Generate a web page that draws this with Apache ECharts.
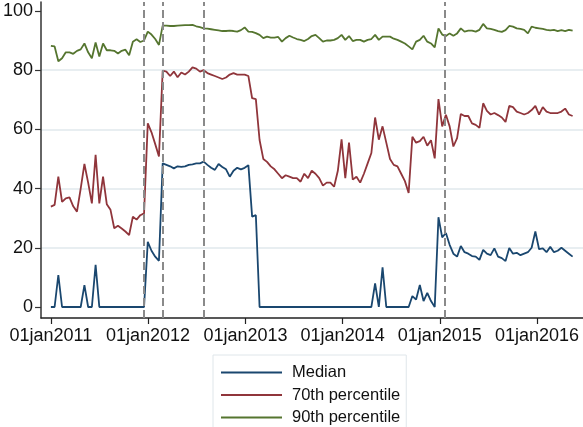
<!DOCTYPE html>
<html>
<head>
<meta charset="utf-8">
<script src="https://cdn.jsdelivr.net/npm/echarts@6/dist/echarts.min.js"></script>
<style>
html, body { margin: 0; padding: 0; background: #fff; }
#main { width: 583px; height: 427px; }
</style>
</head>
<body>
<div id="main"></div>
<script>
// biweekly observations, first one on 01jan2011
var startDate = '2011-01-01';
var stepDays = 14;

var median = [
    0, 0, 10.8, 0, 0, 0, 0, 0, 0, 7.4,
    0, 0, 14.2, 0, 0, 0, 0, 0, 0, 0,
    0, 0, 0, 0, 0, 0, 22, 19, 17, 15.6,
    48.5, 48, 47.5, 46.8, 47.5, 47.3, 47.5, 48, 48.2, 48.5,
    48.5, 49.1, 48, 47, 46.3, 48.3, 47.3, 46.5, 44, 46,
    47, 46.5, 47, 47.9, 30.5, 31, 0, 0, 0, 0,
    0, 0, 0, 0, 0, 0, 0, 0, 0, 0,
    0, 0, 0, 0, 0, 0, 0, 0, 0, 0,
    0, 0, 0, 0, 0, 0, 0, 8, 0, 13.4,
    0, 0, 0, 0, 0, 0, 0, 3.7, 2.5, 7.4,
    2, 4.8, 2, 0, 30.3, 23.5, 25, 21, 18, 17,
    20.6, 18.5, 18, 17.2, 17, 15.9, 19.3, 18, 17.5, 19.8,
    17, 16.5, 15.5, 19.9, 18, 18.3, 17.5, 18, 18.5, 20,
    25.5, 19.5, 19.8, 18.5, 20.3, 18.5, 19, 20, 19, 18,
    17
];
var p70 = [
    33.9, 34.5, 44, 35.5, 36.7, 37, 34, 32.2, 40, 48.3,
    42, 35, 51.4, 35, 44, 34.7, 32.8, 26.6, 27.4, 26.5,
    25.5, 24.3, 30.5, 29.5, 31, 31.6, 62, 59, 55, 50.8,
    79.8, 79.5, 78, 79.5, 77.6, 79.2, 78.5, 79.5, 80.9, 80.5,
    79.5, 80, 79, 78.5, 78, 77.5, 77, 77.5, 78.5, 79,
    78.5, 78.5, 78.5, 78, 70.5, 70.2, 56.4, 50, 49, 47.5,
    46.5, 45, 43.5, 44.5, 44, 43.5, 43.5, 42.3, 45, 43.5,
    46, 45, 43.5, 41, 42, 42, 40.6, 46, 56.6, 43.5,
    55.5, 43, 44, 42, 45, 48.5, 52, 64, 56.5, 61,
    55.5, 50, 48, 47.5, 45, 42.5, 38.5, 57.5, 55.5, 56,
    57.5, 54.5, 56.3, 50.2, 70.2, 61, 64.9, 61, 54.2, 57,
    65.2, 64.5, 64.5, 62, 61.5, 60.5, 68.8, 66.2, 65, 65.5,
    64.8, 64, 62.5, 67.9, 67.5, 66, 65.5, 65, 65.5, 66.5,
    67.9, 65, 67.5, 66, 65.5, 65.5, 65.5, 66, 67, 65,
    64.5
];
var p90 = [
    88.2, 88, 83, 84, 86, 86, 85.5, 86.5, 87, 89,
    86, 84, 89.3, 84.6, 89, 86.7, 86.7, 86.5, 85.6, 86.5,
    86.9, 85, 89.6, 90.4, 89.5, 90, 93, 92, 90.5, 88.5,
    95, 95, 94.9, 94.9, 95, 95.1, 95.2, 95.2, 95.3, 94.8,
    94.5, 94.1, 94, 93.8, 93.6, 93.4, 93.2, 93.2, 93.3, 93.2,
    93, 93.5, 94.4, 93, 92.9, 92.5, 91.9, 90.8, 91.3, 91,
    91, 91.2, 89.6, 90.8, 91.6, 91, 90.5, 90.2, 89.8, 90.5,
    91.5, 91.9, 90.8, 89.6, 90, 90, 90.2, 90.8, 91.9, 90.2,
    91.5, 89.8, 90.2, 90.2, 89.6, 90.2, 90.5, 91.9, 90.2, 91.3,
    91.3, 91.3, 90.6, 90.2, 89.6, 89, 88, 87, 89.6, 90.2,
    91.6, 89.6, 89, 87.7, 94.1, 92, 91.5, 92.4, 91.6, 92.4,
    94.1, 93, 93.3, 93.3, 93, 93.6, 95.6, 94.1, 93.9, 93.6,
    93.2, 92.9, 93.5, 94.9, 94.7, 94.1, 93.9, 93.6, 92.4, 94.7,
    94.3, 94.1, 93.9, 93.6, 93.4, 93.6, 93.2, 93.5, 93.2, 93.6,
    93.3
];

var seriesNames = ['Median', '70th percentile', '90th percentile'];
var seriesColors = ['#1a476f', '#90353b', '#55752f'];
var xTicks = ['2011-01-01', '2012-01-01', '2013-01-01', '2014-01-01', '2015-01-01', '2016-01-01'];
var yTicks = [0, 20, 40, 60, 80, 100];
var eventDates = ['2011-12-17', '2012-02-24', '2012-07-28', '2015-01-19'];
var months = ['jan', 'feb', 'mar', 'apr', 'may', 'jun', 'jul', 'aug', 'sep', 'oct', 'nov', 'dec'];

function toTime(s) {
    var p = s.split('-');
    return new Date(+p[0], +p[1] - 1, +p[2]).getTime();
}

function stataDate(v) {
    var d = new Date(v);
    return ('0' + d.getDate()).slice(-2) + months[d.getMonth()] + d.getFullYear();
}

function build() {
    var myChart = echarts.init(document.getElementById('main'));
    var font = 'Liberation Sans, Arial, sans-serif';
    var s = startDate.split('-');
    var dates = median.map(function (v, i) {
        return new Date(+s[0], +s[1] - 1, +s[2] + i * stepDays).getTime();
    });
    var lists = [median, p70, p90];
    var xTickTimes = xTicks.map(toTime);

    var series = lists.map(function (list, k) {
        return {
            name: seriesNames[k],
            type: 'line',
            symbol: 'none',
            color: seriesColors[k],
            lineStyle: { width: 1.8, color: seriesColors[k] },
            data: list.map(function (v, i) { return [dates[i], v]; })
        };
    });
    series[0].markLine = {
        silent: true,
        symbol: ['none', 'none'],
        label: { show: false },
        lineStyle: { color: '#8a8a8a', type: [8, 4], width: 2 },
        data: eventDates.map(function (d) { return { xAxis: toTime(d) }; })
    };

    var option = {
        animation: false,
        grid: { left: 38, right: 0, top: 2, bottom: 109, containLabel: false },
        legend: {
            orient: 'vertical',
            left: 213,
            top: 355,
            height: 110,
            padding: [9, 6, 8, 8],
            itemGap: 5.5,
            itemWidth: 61,
            itemHeight: 2,
            icon: 'rect',
            borderColor: '#dfe6ea',
            borderWidth: 1,
            data: seriesNames,
            textStyle: { fontSize: 16.5, color: '#111', fontFamily: font, padding: [0, 0, 0, 5] }
        },
        xAxis: {
            type: 'value',
            min: toTime('2010-11-25'),
            max: toTime('2016-06-22'),
            axisLine: { onZero: false, lineStyle: { color: '#222', width: 1.5 } },
            axisTick: { show: true, length: 6, customValues: xTickTimes, lineStyle: { color: '#222', width: 1.2 } },
            axisLabel: { customValues: xTickTimes, formatter: stataDate, margin: 9, fontSize: 18, color: '#111', fontFamily: font },
            splitLine: { show: false }
        },
        yAxis: {
            type: 'value',
            min: -3.72,
            max: 103,
            axisLine: { show: true, lineStyle: { color: '#333', width: 1.5 } },
            axisTick: { show: true, length: 6, customValues: yTicks, lineStyle: { color: '#333', width: 1.2 } },
            axisLabel: { customValues: yTicks, margin: 8, fontSize: 18, color: '#111', fontFamily: font },
            splitLine: { show: true, showMinLine: false, showMaxLine: false, lineStyle: { color: '#e8eef1', width: 2 } }
        },
        series: series
    };

    myChart.setOption(option);
}

build();
</script>
</body>
</html>
